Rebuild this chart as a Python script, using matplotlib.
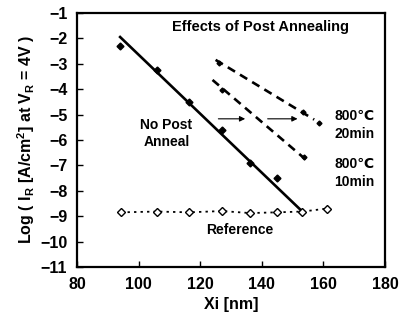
import matplotlib
matplotlib.use("Agg")
import matplotlib.pyplot as plt

plt.rcParams['font.family'] = ['Liberation Sans', 'DejaVu Sans']
plt.rcParams['font.weight'] = 'bold'

# no post anneal: measured points + fitted line
no_anneal_x = [94, 106, 116.5, 127, 136.2, 145]
no_anneal_y = [-2.3, -3.25, -4.5, -5.6, -6.9, -7.5]
fit_x = [94, 153]
fit_y = [-1.95, -8.8]

# post anneal lines
post20_x = [125, 157]
post20_y = [-2.85, -5.2]
post20_pts_x = [126, 153.5, 158.5]
post20_pts_y = [-2.97, -4.9, -5.33]
post10_x = [124, 155.5]
post10_y = [-3.64, -6.9]
post10_pts_x = [127, 153.6]
post10_pts_y = [-4.03, -6.67]

# reference
ref_x = [94.3, 106, 116.4, 127.1, 136.2, 145, 153.2, 161.3]
ref_y = [-8.85, -8.82, -8.85, -8.8, -8.88, -8.85, -8.82, -8.7]

fig = plt.figure(figsize=(4, 3.22), dpi=100)
ax = fig.add_axes([0.1925, 0.171, 0.77, 0.789])

ax.plot(fit_x, fit_y, color='black', lw=1.9)
ax.plot(no_anneal_x, no_anneal_y, 'D', color='black', ms=3.5)

ax.plot(post20_x, post20_y, color='black', lw=1.9, ls=(0, (3.2, 2.2)))
ax.plot(post20_pts_x, post20_pts_y, 'D', color='black', ms=2.5)
ax.plot(post10_x, post10_y, color='black', lw=1.9, ls=(0, (3.2, 2.2)))
ax.plot(post10_pts_x, post10_pts_y, 'D', color='black', ms=2.5)

ax.plot(ref_x, ref_y, color='black', lw=1.3, ls=(0, (1.3, 2.3)),
        marker='D', ms=4, mfc='white', mec='black', mew=1)

for x0, x1 in [(125, 135.5), (141, 152.5)]:
    ax.annotate('', xy=(x1, -5.17), xytext=(x0, -5.17),
                arrowprops=dict(arrowstyle='-|>', color='black', lw=0.8,
                                mutation_scale=8))

ax.text(139.5, -1.55, 'Effects of Post Annealing', ha='center', va='center', fontsize=10.5, fontweight='bold')
ax.text(109, -5.75, 'No Post\nAnneal', ha='center', va='center', fontsize=10, fontweight='bold', linespacing=1.35)
ax.text(170, -5.4, '800\u2103\n20min', ha='center', va='center', fontsize=10, fontweight='bold', linespacing=1.35)
ax.text(170, -7.3, '800\u2103\n10min', ha='center', va='center', fontsize=10, fontweight='bold', linespacing=1.35)
ax.text(133, -9.55, 'Reference', ha='center', va='center', fontsize=10, fontweight='bold')

ax.set_xlim(80, 180)
ax.set_ylim(-11, -1)
ax.set_xticks([80, 100, 120, 140, 160, 180])
ax.set_yticks(range(-11, 0))
ax.set_yticklabels(['\u2212%d' % abs(v) for v in range(-11, 0)])
ax.tick_params(direction='in', labelsize=11.5, length=4, width=1, pad=7)
for s in ax.spines.values():
    s.set_linewidth(1.6)

ax.set_xlabel('Xi [nm]', fontsize=11.5, fontweight='bold', labelpad=4)
ax.set_ylabel('Log ( I$_\\mathregular{R}$ [A/cm$^\\mathregular{2}$] at V$_\\mathregular{R}$ = 4V )',
              fontsize=11.5, fontweight='bold', labelpad=2)

fig.savefig('out.png', dpi=100)
